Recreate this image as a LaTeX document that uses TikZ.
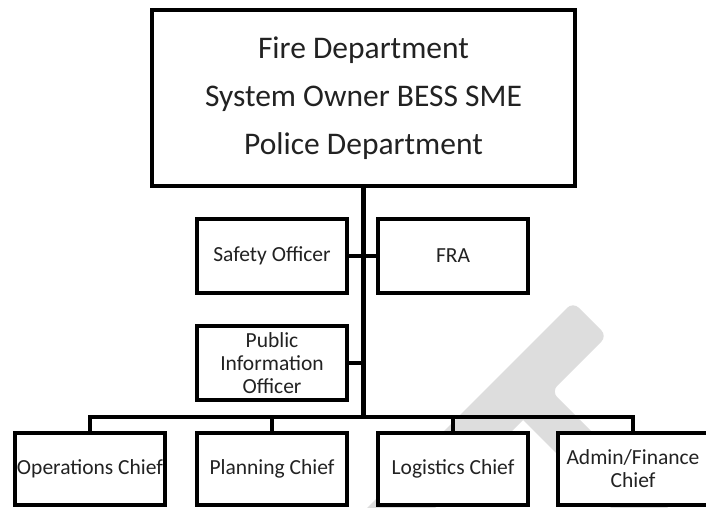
\documentclass[tikz,border=0pt]{standalone}
\usepackage{fontspec}
\setmainfont{Carlito}
\usetikzlibrary{positioning}

\definecolor{wmgrey}{RGB}{221,221,221}
\definecolor{ink}{RGB}{34,34,34}

\tikzset{
  post/.style={draw, line width=4.5pt, fill=white, outer sep=0pt, inner sep=0pt,
    align=center, text=ink, font=\fontsize{21.5}{23}\selectfont},
  officer/.style={post, minimum width=150pt, minimum height=74pt},
  chief/.style={post, minimum width=150pt, minimum height=72pt},
  lead/.style={post, minimum width=423pt, minimum height=176pt,
    font=\fontsize{31.5}{48}\selectfont},
  wire/.style={line width=4.5pt}
}

\begin{document}
\begin{tikzpicture}[x=1pt, y=-1pt, node distance=32pt]

\useasboundingbox (0,0) rectangle (706,508);

\fill[wmgrey] (355,520) [rounded corners=8pt] -- (573,302) -- (607,336)
  -- (551.5,391.5) [sharp corners] -- (680,520) -- (623,520) -- (523,420)
  -- (423,520) -- cycle;

\node[lead] (command) at (363.5,98) {Fire Department\\System Owner BESS SME\\Police Department};
\node[officer] (safety) [below=33pt of command, xshift=-91.5pt] {Safety Officer};
\node[officer] (fra) [right=31pt of safety] {FRA};
\node[officer] (pio) [below=33pt of safety] {Public\\Information\\Officer};
\node[chief] (planning) [below=33pt of pio] {Planning Chief};
\node[chief] (operations) [left=32pt of planning] {Operations Chief};
\node[chief] (logistics) [right=31pt of planning] {Logistics Chief};
\node[chief] (admin) [right=30pt of logistics] {Admin/Finance\\Chief};

\coordinate[above=16pt of planning] (bus);

\draw[wire] (command) to (command |- bus);
\draw[wire] (safety) to (fra);
\draw[wire] (pio.east) to (pio.east -| command.south);
\draw[wire] (operations.north) |- (admin.north |- bus) to (admin.north);
\draw[wire] (planning) to (planning |- bus);
\draw[wire] (logistics) to (logistics |- bus);
\end{tikzpicture}
\end{document}
